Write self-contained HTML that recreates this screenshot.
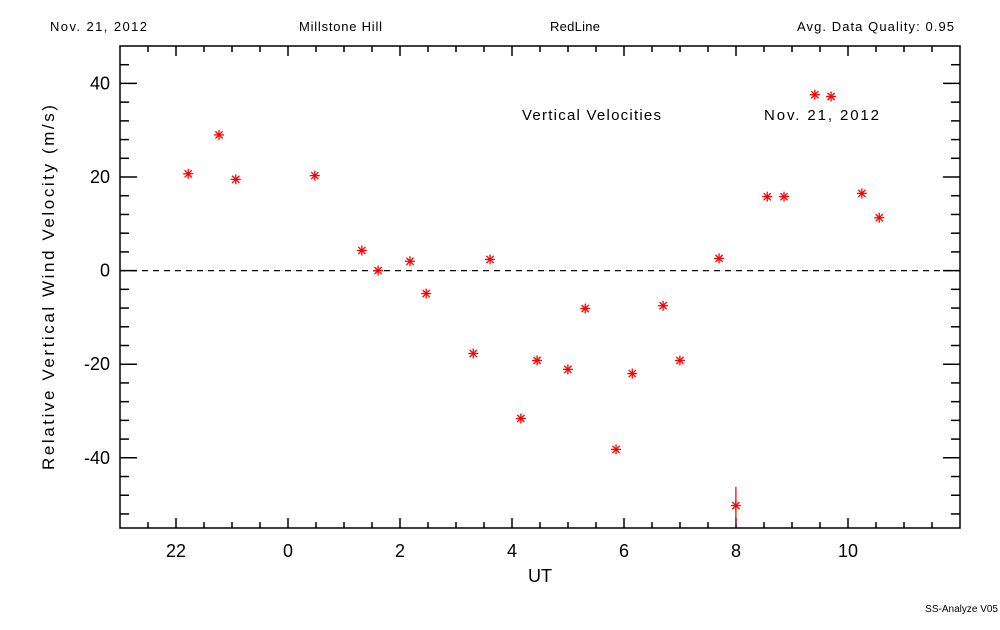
<!DOCTYPE html>
<html><head><meta charset="utf-8"><style>
body{margin:0;background:#fff;}
svg text{font-family:"Liberation Sans",sans-serif;fill:#000;}
</style></head><body>
<svg id="chart" width="1000" height="625" viewBox="0 0 1000 625" xmlns="http://www.w3.org/2000/svg">
<rect width="1000" height="625" fill="#fff"/>
<text x="50" y="31" font-size="13" textLength="97">Nov. 21, 2012</text>
<text x="299" y="31" font-size="13" textLength="83">Millstone Hill</text>
<text x="550" y="31" font-size="13" textLength="50">RedLine</text>
<text x="797" y="31" font-size="13" textLength="157">Avg. Data Quality: 0.95</text>
<text x="522" y="120" font-size="15" textLength="139">Vertical Velocities</text>
<text x="764" y="120" font-size="15" textLength="115">Nov. 21, 2012</text>
<text x="540" y="582" font-size="18" text-anchor="middle">UT</text>
<text transform="translate(54,470) rotate(-90)" font-size="17" textLength="365">Relative Vertical Wind Velocity (m/s)</text>
<text x="998" y="612" font-size="10" text-anchor="end">SS-Analyze V05</text>
<g id="axes"></g>
<g id="marks"></g>
</svg>
<script>
const hours=[-1.80,-1.25,-0.95,0.46,1.30,1.59,2.16,2.45,3.29,3.59,4.14,4.43,4.98,5.29,5.84,6.13,6.68,6.98,7.68,7.98,8.54,8.84,9.39,9.68,10.23,10.54];
const velocities=[20.7,29,19.5,20.3,4.3,0,2,-4.9,-17.7,2.4,-31.6,-19.2,-21.1,-8.1,-38.2,-22,-7.5,-19.2,2.6,-50.2,15.8,15.8,37.6,37.2,16.5,11.3];
const errors=[0,0,0,0,0,0,0,0,0,0,0,0,0,0,0,0,0,0,0,4,0,0,0,0,0,0];
const xTicks=[-2,0,2,4,6,8,10];
const xTickLabels=["22","0","2","4","6","8","10"];
const yTicks=[-40,-20,0,20,40];
const yTickLabels=["-40","-20","0","20","40"];
const L=120,R=960,T=46,B=528,xmin=-3,xmax=12,ymin=-55,ymax=48;
const X=h=>L+(h-xmin)/(xmax-xmin)*(R-L);
const Y=v=>B-(v-ymin)/(ymax-ymin)*(B-T);
const NS="http://www.w3.org/2000/svg";
const axes=document.getElementById('axes'),marks=document.getElementById('marks');
function mk(tag,at,parent){const e=document.createElementNS(NS,tag);for(const k in at)e.setAttribute(k,at[k]);parent.appendChild(e);return e;}
let fr=mk('rect',{x:L,y:T,width:R-L,height:B-T,fill:'none',stroke:'#000','stroke-width':1.5},axes);


for(let h=xmin+0.5;h<xmax;h+=0.5){const major=xTicks.includes(h);const len=major?10:6;
 mk('line',{x1:X(h),x2:X(h),y1:B,y2:B-len,stroke:'#000','stroke-width':1.5},axes);
 mk('line',{x1:X(h),x2:X(h),y1:T,y2:T+len,stroke:'#000','stroke-width':1.5},axes);}
for(let v=-52;v<ymax;v+=4){const major=yTicks.includes(v);const len=major?17:9;
 mk('line',{x1:L,x2:L+len,y1:Y(v),y2:Y(v),stroke:'#000','stroke-width':1.5},axes);
 mk('line',{x1:R,x2:R-len,y1:Y(v),y2:Y(v),stroke:'#000','stroke-width':1.5},axes);}
xTicks.forEach((h,i)=>{const t=mk('text',{x:X(h),y:557,'font-size':18,'text-anchor':'middle'},axes);t.textContent=xTickLabels[i];
 
 });
yTicks.forEach((v,i)=>{const t=mk('text',{x:110,y:Y(v)+6,'font-size':18,'text-anchor':'end'},axes);t.textContent=yTickLabels[i];
 
 });
const zl=mk('line',{x1:L,x2:R,y1:Y(0),y2:Y(0),stroke:'#000','stroke-width':1.2,'stroke-dasharray':'6,5'},axes);


hours.forEach((h,i)=>{const cx=X(h)+1,cy=Y(velocities[i]);
 const g=mk('g',{stroke:'#f00','stroke-width':1.3},marks);
 
 
 const r=5;
 mk('line',{x1:cx,x2:cx,y1:cy-r,y2:cy+r},g);
 mk('line',{x1:cx-r,x2:cx+r,y1:cy,y2:cy},g);
 mk('line',{x1:cx-3.6,x2:cx+3.6,y1:cy-3.6,y2:cy+3.6},g);
 mk('line',{x1:cx-3.6,x2:cx+3.6,y1:cy+3.6,y2:cy-3.6},g);
 if(errors[i]>0){mk('line',{x1:cx,x2:cx,y1:Y(velocities[i]+errors[i]),y2:Math.min(B,Y(velocities[i]-errors[i]))},g);}
});
</script>
</body></html>
